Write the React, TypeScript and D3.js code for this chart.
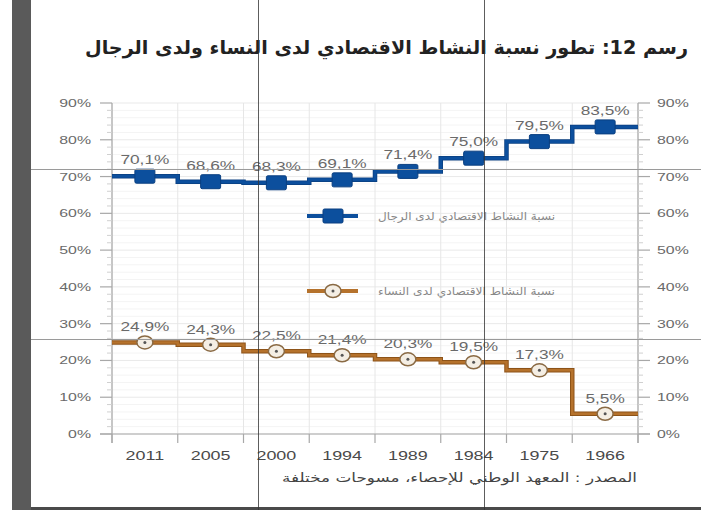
import * as d3 from 'd3'

// values (activity rate, %)
const years = ['2011', '2005', '2000', '1994', '1989', '1984', '1975', '1966']
const menRate = [70.1, 68.6, 68.3, 69.1, 71.4, 75.0, 79.5, 83.5]
const womenRate = [24.9, 24.3, 22.5, 21.4, 20.3, 19.5, 17.3, 5.5]
const yTicks = [0, 10, 20, 30, 40, 50, 60, 70, 80, 90]

const titleText = 'رسم 12: تطور نسبة النشاط الاقتصادي لدى النساء ولدى الرجال'
const menLabel = 'نسبة النشاط الاقتصادي لدى الرجال'
const womenLabel = 'نسبة النشاط الاقتصادي لدى النساء'
const sourceText = 'المصدر : المعهد الوطني للإحصاء، مسوحات مختلفة'

const W = 701
const H = 510
const margin = { top: 103, right: 63, bottom: 76, left: 112 }

const blue = '#0c4f9d'
const brown = '#b5722c'
const grey = '#6a6a6a'
const latin = 'Liberation Sans, Arial, sans-serif'

// the scanned chart is stretched sideways, so its latin text is too
function WideText({ x, y, anchor, size, fill, weight, children }: {
    x: number, y: number, anchor: 'start' | 'middle' | 'end', size: number, fill: string, weight?: string, children: string
}) {
    return (
        <text transform={`translate(${x},${y}) scale(1.38,1)`} textAnchor={anchor} fontFamily={latin}
            fontSize={size} fill={fill} fontWeight={weight}>{children}</text>
    )
}

export default function App() {
    const x = d3.scaleBand<string>()
        .domain(years)
        .range([margin.left, W - margin.right])
    const y = d3.scaleLinear()
        .domain([0, 90])
        .range([H - margin.bottom, margin.top])

    const minorTicks = d3.range(0, 90, 2).filter(v => v % 10 !== 0)
    const boundaries = years.map(d => x(d)!).concat([x.range()[1]])

    // step line: hold each value across the whole band
    const stepLine = d3.line<[number, number]>()
        .x(d => d[0])
        .y(d => y(d[1]))
        .curve(d3.curveStep)
    const stepPoints = (vals: number[]): [number, number][] => {
        const pts: [number, number][] = vals.map((v, i) => [x(years[i])! + x.bandwidth() / 2, v])
        return [[x.range()[0], vals[0]] as [number, number]].concat(pts, [[x.range()[1], vals[vals.length - 1]]])
    }
    const fmt = (v: number) => d3.format('.1f')(v).replace('.', ',') + '%'
    const cx = (i: number) => x(years[i])! + x.bandwidth() / 2

    const y0 = y(0)
    const yTop = y(90)
    const xl = x.range()[0]
    const xr = x.range()[1]

    return (
        <svg width={W} height={H} style={{ position: 'absolute', left: 0, top: 0, background: '#fff' }}>
            {/* scan frame */}
            <rect x={12} y={0} width={19} height={H} fill="#5a5a5a" />
            <rect x={31} y={507} width={W - 31} height={3} fill="#4a4a4a" />

            {/* title */}
            <text x={688} y={54} textAnchor="start" direction="rtl" fontFamily="DejaVu Sans" fontWeight="bold" fontSize={19}
                textLength={603} lengthAdjust="spacingAndGlyphs" fill="#222">{titleText}</text>

            {/* grid */}
            {minorTicks.map(t => (
                <line key={'mg' + t} x1={xl} x2={xr} y1={y(t)} y2={y(t)} stroke="#f4f4f4" />
            ))}
            {yTicks.map(t => (
                <line key={'g' + t} x1={xl} x2={xr} y1={y(t)} y2={y(t)} stroke="#e9e9e9" />
            ))}
            {boundaries.map((b, i) => (
                <line key={'vg' + i} x1={b} x2={b} y1={yTop} y2={y0} stroke="#e6e6e6" />
            ))}

            {/* axes */}
            <line x1={xl} x2={xl} y1={yTop} y2={y0 + 9} stroke="#a8a8a8" strokeWidth={1.2} />
            <line x1={xr} x2={xr} y1={yTop} y2={y0 + 9} stroke="#a8a8a8" strokeWidth={1.2} />
            <line x1={xl - 12} x2={xr + 12} y1={y0} y2={y0} stroke="#a8a8a8" strokeWidth={1.2} />
            {boundaries.map((b, i) => (
                <line key={'xt' + i} x1={b} x2={b} y1={y0} y2={y0 + 9} stroke="#a8a8a8" strokeWidth={1.2} />
            ))}
            {minorTicks.map(t => (
                <g key={'mt' + t}>
                    <line x1={xl - 5} x2={xl} y1={y(t)} y2={y(t)} stroke="#d0d0d0" />
                    <line x1={xr} x2={xr + 5} y1={y(t)} y2={y(t)} stroke="#d0d0d0" />
                </g>
            ))}
            {yTicks.map(t => (
                <g key={'yt' + t}>
                    <line x1={xl - 12} x2={xl} y1={y(t)} y2={y(t)} stroke="#a8a8a8" strokeWidth={1.2} />
                    <line x1={xr} x2={xr + 12} y1={y(t)} y2={y(t)} stroke="#a8a8a8" strokeWidth={1.2} />
                    <WideText x={91} y={y(t) + 4} anchor="end" size={11.5} fill={grey}>{`${t}%`}</WideText>
                    <WideText x={657} y={y(t) + 4} anchor="start" size={11.5} fill={grey}>{`${t}%`}</WideText>
                </g>
            ))}
            {years.map(d => (
                <WideText key={d} x={x(d)! + x.bandwidth() / 2} y={460} anchor="middle" size={13}
                    fill="#4a4a4a">{d}</WideText>
            ))}

            {/* men */}
            <path d={stepLine(stepPoints(menRate))!} fill="none" stroke="#0a3f80" strokeWidth={4.5} />
            <path d={stepLine(stepPoints(menRate))!} fill="none" stroke={blue} strokeWidth={3} />
            {menRate.map((v, i) => (
                <g key={'m' + i}>
                    <rect x={cx(i) - 10} y={y(v) - 7} width={20} height={14} rx={1.5} fill={blue} stroke="#0a3f80" />
                    <WideText x={cx(i)} y={y(v) - 12} anchor="middle" size={12.5} fill={grey}>{fmt(v)}</WideText>
                </g>
            ))}

            {/* women */}
            <path d={stepLine(stepPoints(womenRate))!} fill="none" stroke="#8d5318" strokeWidth={4.5} />
            <path d={stepLine(stepPoints(womenRate))!} fill="none" stroke={brown} strokeWidth={2.5} />
            {womenRate.map((v, i) => (
                <g key={'w' + i}>
                    <ellipse cx={cx(i)} cy={y(v)} rx={8} ry={6.5} fill="#f4eee4" stroke="#8a6a44" strokeWidth={1.5} />
                    <circle cx={cx(i)} cy={y(v)} r={1.5} fill="#555" />
                    <WideText x={cx(i)} y={y(v) - 11} anchor="middle" size={12.5} fill={grey}>{fmt(v)}</WideText>
                </g>
            ))}

            {/* legend */}
            <line x1={307} x2={358} y1={216} y2={216} stroke={blue} strokeWidth={4} />
            <rect x={323} y={209} width={20} height={14} rx={1.5} fill={blue} stroke="#0a3f80" />
            <text x={555} y={220} textAnchor="end" fontFamily="DejaVu Sans" fontSize={11} fill="#888"
                textLength={177} lengthAdjust="spacingAndGlyphs">{menLabel}</text>
            <line x1={307} x2={358} y1={291} y2={291} stroke={brown} strokeWidth={4} />
            <ellipse cx={333} cy={291} rx={8} ry={6.5} fill="#f4eee4" stroke="#8a6a44" strokeWidth={1.5} />
            <circle cx={333} cy={291} r={1.5} fill="#555" />
            <text x={555} y={295} textAnchor="end" fontFamily="DejaVu Sans" fontSize={11} fill="#888"
                textLength={177} lengthAdjust="spacingAndGlyphs">{womenLabel}</text>

            {/* source */}
            <text x={637} y={482} textAnchor="end" fontFamily="DejaVu Sans" fontSize={12.5} fill="#444"
                textLength={355} lengthAdjust="spacingAndGlyphs">{sourceText}</text>

            {/* scan artifacts */}
            <line x1={31} x2={W} y1={169.5} y2={169.5} stroke="#9a9a9a" />
            <line x1={31} x2={W} y1={339.5} y2={339.5} stroke="#9a9a9a" />
            <line x1={258.5} x2={258.5} y1={0} y2={H} stroke="#333" strokeWidth={0.8} />
            <line x1={484.5} x2={484.5} y1={0} y2={H} stroke="#333" strokeWidth={0.8} />
        </svg>
    )
}
